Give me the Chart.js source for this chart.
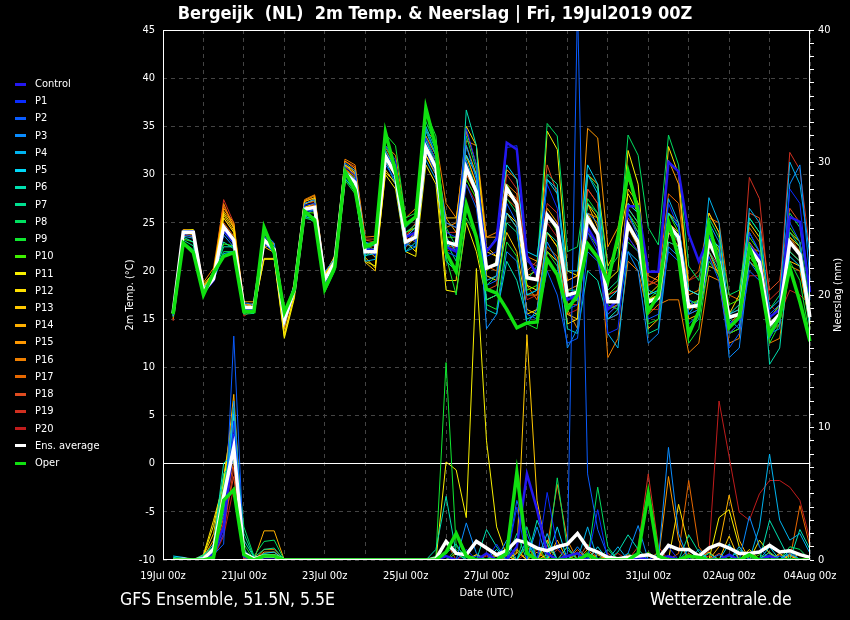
<!DOCTYPE html>
<html>
<head>
<meta charset="utf-8">
<title>Bergeijk (NL) 2m Temp. &amp; Neerslag</title>
<script src="https://cdn.jsdelivr.net/npm/chart.js@4.4.1/dist/chart.umd.min.js"></script>
<style>
html, body { margin: 0; padding: 0; background: #000; }
#wrap { position: relative; width: 850px; height: 620px; overflow: hidden; color: #fff;
        font-family: 'DejaVu Sans Condensed', 'DejaVu Sans', sans-serif; }
#box { position: absolute; left: 0; top: 0; width: 850px; height: 620px; }
#title { position: absolute; top: 2px; left: 0; width: 870px; text-align: center; font-weight: bold; font-size: 18px; }
#legend .item { position: absolute; left: 15px; height: 14px; line-height: 14px; font-size: 11px; white-space: nowrap; }
#legend .sw { display: inline-block; width: 11px; height: 3px; margin-right: 9px; vertical-align: middle; }
#src { position: absolute; left: 120px; top: 589px; font-size: 17.5px; }
#site { position: absolute; left: 650px; top: 589px; font-size: 17.5px; }
</style>
</head>
<body>
<div id="wrap">
  <div id="box"><canvas id="chart"></canvas></div>
  <div id="title">Bergeijk&nbsp;&nbsp;(NL)&nbsp;&nbsp;2m Temp. &amp; Neerslag | Fri, 19Jul2019 00Z</div>
  <div id="legend"></div>
  <div id="src">GFS Ensemble, 51.5N, 5.5E</div>
  <div id="site">Wetterzentrale.de</div>
</div>
<script>
// time axis: 6-hourly from 19Jul 00z to 04Aug 00z, series start at 06z
const days = ['19Jul', '20Jul', '21Jul', '22Jul', '23Jul', '24Jul', '25Jul', '26Jul', '27Jul',
              '28Jul', '29Jul', '30Jul', '31Jul', '01Aug', '02Aug', '03Aug', '04Aug'];
const hoursOfDay = ['00z', '06z', '12z', '18z'];

const names = ['Control', 'P1', 'P2', 'P3', 'P4', 'P5', 'P6', 'P7', 'P8', 'P9', 'P10',
               'P11', 'P12', 'P13', 'P14', 'P15', 'P16', 'P17', 'P18', 'P19', 'P20', 'Ens. average', 'Oper'];
const colors = ['#2418f0', '#0a2cff', '#0a5cff', '#0a8cff', '#00b4f0', '#00d8f8', '#00e0b0', '#00e090',
                '#00e060', '#10e830', '#40f000', '#f8f000', '#ffe000', '#ffc800', '#ffb000', '#ff9800',
                '#f08000', '#e86800', '#e04c20', '#d03020', '#c01c1c', '#ffffff', '#10e010'];

// 2m temperature (°C)
const tControl = [15.6, 24.0, 24.0, 17.8, 19.0, 24.3, 23.0, 16.0, 15.9, 23.3, 22.0, 14.8, 18.0, 26.3, 26.5, 18.9, 20.8, 30.3, 29.3, 22.2, 22.2,
  32.0, 30.2, 23.5, 24.0, 33.0, 30.8, 22.5, 22.0, 31.0, 28.0,
  22.0, 23.3, 33.3, 32.6, 21.5, 19.5, 25.8, 24.6, 17.0, 17.5, 24.5, 22.7, 16.0, 17.0, 26.7, 26.7, 19.9, 19.9, 31.3, 30.3, 23.8, 21.0, 23.5, 20.5, 14.5, 15.0, 22.7, 21.4, 15.2, 16.0, 25.6, 25.1, 17.8];
const tP1 = [15.4, 24.1, 24.2, 18.0, 19.0, 24.3, 23.5, 16.0, 16.4, 23.6, 22.5, 14.6, 18.3, 26.8, 27.0, 19.3, 21.0, 30.8, 29.9, 22.4, 21.6,
  33.0, 31.5, 23.8, 23.0, 33.8, 31.5, 24.0, 23.5, 34.8, 31.0,
  21.5, 22.0, 32.8, 33.0, 21.0, 20.0, 29.0, 26.5, 16.0, 16.5, 24.0, 22.0, 13.5, 14.0, 23.5, 22.0, 16.5, 17.5, 27.0, 24.5, 17.0, 16.0, 24.5, 21.5, 13.5, 14.5, 24.0, 22.0, 13.0, 15.0, 28.5, 27.0, 17.0];
const tP2 = [15.8, 23.8, 23.6, 17.7, 19.4, 24.0, 22.8, 16.4, 16.1, 22.8, 22.0, 15.2, 17.9, 26.0, 26.3, 18.8, 20.7, 29.8, 28.9, 21.8, 22.3,
  31.0, 29.5, 22.5, 24.0, 32.5, 30.0, 22.0, 21.5, 29.0, 26.5,
  18.5, 19.0, 27.0, 25.0, 15.5, 15.0, 20.0, 17.5, 12.5, 13.0, 22.0, 21.0, 15.5, 16.5, 26.0, 23.5, 15.0, 15.5, 22.0, 21.0, 14.5, 15.5, 21.5, 19.0, 12.0, 13.5, 20.0, 19.0, 15.5, 16.5, 25.0, 23.0, 16.0];
const tP3 = [15.5, 24.2, 24.1, 18.2, 19.5, 23.7, 22.5, 16.7, 16.5, 23.9, 22.9, 15.5, 18.6, 27.0, 27.4, 19.9, 21.3, 31.2, 30.4, 23.0, 22.6,
  32.5, 30.5, 22.8, 22.5, 34.8, 32.0, 25.0, 24.5, 33.0, 29.5,
  14.0, 15.5, 22.0, 21.0, 14.5, 16.0, 23.0, 21.0, 12.0, 14.0, 26.0, 25.0, 15.0, 15.5, 22.0, 20.0, 12.5, 13.5, 22.5, 21.5, 15.5, 16.0, 25.0, 23.0, 11.0, 12.0, 21.0, 19.5, 13.5, 14.0, 29.0, 31.0, 19.0];
const tP4 = [15.9, 23.6, 23.4, 17.6, 19.0, 21.8, 22.0, 16.3, 15.8, 23.0, 21.8, 14.8, 18.0, 25.6, 25.5, 18.5, 20.5, 29.6, 28.4, 21.0, 21.2,
  31.5, 29.0, 22.0, 22.5, 31.5, 29.5, 22.5, 23.0, 31.0, 28.5,
  19.0, 19.5, 26.0, 24.5, 17.5, 18.0, 29.5, 28.5, 17.5, 17.0, 30.0, 28.0, 13.5, 12.0, 22.0, 21.0, 16.0, 17.0, 27.5, 25.0, 15.5, 17.0, 27.6, 25.0, 15.0, 14.0, 26.5, 25.0, 16.0, 17.0, 31.3, 29.0, 21.5];
const tP5 = [15.3, 24.0, 23.9, 18.3, 19.3, 24.5, 23.0, 16.0, 15.9, 23.4, 22.3, 14.4, 17.8, 26.2, 26.5, 19.0, 20.8, 30.0, 29.0, 21.6, 21.8,
  31.8, 29.8, 23.5, 24.5, 33.5, 31.0, 23.5, 22.0, 32.0, 30.0,
  22.0, 23.5, 31.0, 29.5, 22.0, 21.5, 29.5, 28.0, 20.0, 20.0, 31.0, 29.0, 17.0, 18.0, 27.0, 26.0, 17.5, 18.0, 26.0, 24.5, 18.0, 17.5, 23.5, 22.5, 15.5, 16.0, 24.0, 22.0, 13.0, 15.0, 21.5, 20.5, 15.0];
const tP6 = [15.7, 23.5, 23.0, 17.8, 19.6, 22.5, 22.5, 16.5, 16.0, 23.5, 22.0, 15.0, 18.2, 26.4, 26.2, 19.2, 21.2, 30.4, 29.5, 22.5, 22.0,
  32.0, 30.0, 22.0, 23.0, 35.0, 32.5, 21.0, 20.0, 36.7, 33.0,
  16.0, 15.5, 21.0, 19.0, 15.0, 15.5, 24.0, 23.0, 14.0, 13.5, 20.0, 19.0, 15.0, 16.0, 26.5, 25.0, 18.0, 17.5, 25.0, 23.0, 14.0, 15.0, 22.0, 20.0, 15.5, 16.5, 25.5, 24.0, 10.3, 12.0, 22.0, 21.0, 14.0];
const tP7 = [15.4, 23.2, 22.6, 17.6, 19.8, 23.0, 22.3, 15.8, 15.6, 24.0, 22.3, 15.6, 18.5, 25.8, 25.6, 18.3, 20.4, 29.5, 28.6, 22.8, 23.0,
  33.0, 31.0, 24.5, 25.5, 34.5, 32.0, 23.0, 21.0, 31.5, 28.5,
  17.0, 17.5, 25.0, 24.0, 17.5, 18.0, 30.0, 29.0, 18.0, 18.0, 27.0, 26.0, 18.0, 19.0, 26.0, 24.0, 13.5, 14.0, 23.0, 22.5, 17.0, 16.5, 23.0, 21.0, 15.0, 15.5, 22.0, 21.5, 14.0, 15.5, 24.0, 22.5, 14.5];
const tP8 = [16.0, 23.0, 22.2, 17.5, 19.6, 22.0, 22.0, 15.5, 15.6, 24.3, 21.6, 15.5, 18.4, 25.5, 25.2, 18.0, 20.2, 29.6, 28.2, 22.2, 22.8,
  33.8, 30.8, 24.0, 24.8, 35.5, 33.0, 24.5, 22.5, 34.0, 30.5,
  18.5, 19.5, 27.5, 26.0, 19.0, 20.5, 35.3, 34.0, 22.0, 22.5, 30.0, 28.5, 20.0, 21.5, 34.1, 32.0, 24.5, 22.7, 34.1, 31.0, 20.5, 19.0, 25.5, 23.5, 17.5, 18.0, 25.5, 24.0, 16.0, 17.5, 26.0, 24.5, 17.0];
const tP9 = [15.2, 22.8, 22.0, 17.4, 20.0, 21.5, 21.8, 15.6, 15.8, 24.6, 22.0, 15.8, 18.0, 25.8, 25.0, 17.8, 20.0, 29.4, 28.0, 21.5, 22.5,
  34.2, 33.0, 25.5, 26.0, 36.5, 34.0, 21.5, 17.5, 25.5, 23.5,
  16.5, 16.0, 23.0, 21.5, 14.5, 14.0, 22.0, 20.5, 16.0, 16.5, 27.5, 26.0, 16.5, 16.0, 23.0, 22.0, 14.5, 15.0, 25.0, 23.0, 12.5, 14.0, 21.0, 19.5, 13.5, 14.0, 21.5, 20.0, 12.5, 14.5, 21.0, 19.0, 13.0];
const tP10 = [15.5, 23.3, 23.0, 17.7, 19.9, 22.8, 22.6, 16.0, 16.0, 23.8, 22.6, 15.3, 18.3, 26.1, 26.0, 18.6, 20.6, 30.0, 28.8, 22.0, 22.4,
  32.5, 30.5, 24.0, 24.5, 33.5, 31.5, 23.5, 23.5, 29.5, 27.5,
  20.0, 21.0, 29.0, 27.0, 18.0, 18.5, 26.0, 24.0, 16.5, 17.0, 24.0, 22.5, 17.5, 18.5, 26.0, 24.5, 17.0, 18.0, 26.0, 24.0, 16.5, 17.0, 24.5, 22.0, 16.5, 17.0, 23.5, 22.0, 15.0, 16.5, 24.5, 23.0, 16.5];
const tP11 = [15.3, 24.2, 24.3, 18.4, 19.5, 25.5, 24.0, 15.8, 16.2, 21.2, 21.2, 13.0, 17.2, 26.6, 27.0, 19.5, 21.0, 30.5, 29.6, 21.0, 20.5,
  30.0, 28.5, 22.0, 21.5, 31.0, 29.0, 18.0, 17.8, 25.0, 22.0,
  17.0, 17.5, 26.0, 25.0, 18.5, 18.0, 34.5, 32.6, 20.0, 19.5, 27.0, 25.5, 19.0, 20.0, 32.5, 29.0, 17.0, 17.5, 26.0, 25.0, 16.0, 17.0, 24.0, 22.0, 14.0, 15.0, 22.5, 21.0, 14.5, 15.5, 24.0, 23.0, 16.0];
const tP12 = [15.6, 24.1, 24.0, 18.6, 19.8, 26.0, 24.5, 15.6, 15.9, 21.3, 21.3, 13.2, 17.5, 26.9, 27.5, 19.6, 21.4, 31.0, 30.2, 21.4, 20.3,
  30.5, 29.0, 23.0, 22.0, 32.0, 30.0, 19.0, 19.0, 35.0, 33.0,
  22.0, 21.5, 26.0, 24.5, 15.5, 16.0, 24.0, 22.5, 14.5, 15.0, 30.0, 29.0, 20.5, 22.5, 28.0, 26.0, 17.5, 18.5, 32.9, 30.0, 18.0, 17.5, 26.0, 24.0, 15.5, 17.5, 25.0, 23.5, 15.0, 16.5, 23.5, 22.5, 14.5];
const tP13 = [15.7, 23.9, 23.8, 18.1, 20.0, 25.8, 24.2, 16.1, 16.6, 22.5, 21.9, 13.5, 17.6, 27.2, 27.6, 19.4, 21.3, 30.9, 30.0, 20.9, 20.0,
  30.2, 29.2, 22.5, 23.5, 32.0, 30.0, 25.5, 25.5, 32.0, 29.0,
  19.5, 19.0, 24.0, 22.0, 16.0, 15.5, 22.0, 21.0, 15.5, 15.0, 26.0, 24.0, 16.0, 17.0, 28.5, 27.0, 17.0, 17.5, 24.0, 22.5, 15.0, 15.5, 20.5, 20.0, 13.5, 14.5, 21.0, 20.0, 14.5, 15.0, 21.0, 20.5, 14.0];
const tP14 = [15.8, 24.0, 24.0, 18.2, 19.9, 26.2, 24.8, 16.4, 16.6, 22.6, 22.4, 14.0, 18.4, 27.0, 27.3, 19.5, 21.6, 31.0, 30.4, 22.4, 21.4,
  32.0, 30.5, 24.0, 24.5, 34.0, 32.0, 25.5, 24.0, 33.0, 30.0,
  22.5, 21.5, 28.0, 27.0, 19.5, 20.0, 26.5, 25.0, 19.0, 19.5, 27.0, 24.5, 16.0, 16.5, 24.5, 22.5, 14.0, 15.0, 25.0, 24.0, 16.5, 16.0, 22.0, 19.5, 13.5, 14.0, 21.5, 20.0, 13.5, 14.5, 23.0, 22.0, 14.5];
const tP15 = [15.4, 24.3, 24.2, 18.5, 19.6, 26.5, 25.0, 16.8, 16.8, 23.5, 22.8, 14.5, 18.6, 27.3, 27.8, 19.7, 21.5, 31.4, 30.6, 23.0, 22.0,
  32.5, 30.8, 23.0, 24.0, 33.8, 31.5, 24.5, 25.0, 34.5, 31.0,
  23.5, 23.5, 30.5, 29.5, 21.5, 21.0, 24.0, 22.5, 18.0, 18.5, 34.8, 33.8, 22.5, 24.5, 29.5, 27.0, 19.5, 19.0, 31.5, 29.0, 17.5, 18.0, 23.5, 22.5, 14.5, 15.5, 23.0, 21.5, 14.0, 15.0, 22.0, 21.0, 15.5];
const tP16 = [15.0, 24.0, 23.8, 18.8, 20.3, 27.0, 24.5, 16.6, 16.2, 23.0, 22.5, 14.2, 18.9, 27.4, 27.9, 19.8, 21.2, 31.6, 31.0, 23.5, 23.6,
  33.0, 32.0, 25.5, 26.5, 34.5, 33.5, 27.0, 25.5, 33.5, 33.0,
  23.5, 24.0, 29.0, 28.0, 17.5, 17.5, 22.0, 21.0, 16.0, 14.0, 26.0, 25.5, 11.0, 13.0, 21.0, 20.0, 15.5, 16.5, 17.0, 17.0, 11.5, 12.5, 19.5, 19.0, 12.5, 13.0, 22.5, 22.0, 12.5, 13.0, 20.5, 20.0, 14.5];
const tP17 = [15.5, 23.9, 23.5, 18.0, 19.4, 25.0, 23.6, 16.2, 16.3, 23.2, 22.0, 14.8, 18.1, 26.6, 26.8, 19.2, 20.9, 30.6, 29.8, 22.6, 22.6,
  32.8, 31.0, 23.5, 23.0, 33.0, 31.0, 22.5, 22.5, 30.0, 28.0,
  20.5, 20.0, 27.5, 26.5, 18.5, 17.0, 22.5, 21.5, 16.5, 17.0, 23.0, 21.5, 15.0, 15.5, 26.5, 25.0, 18.5, 19.0, 28.0, 27.0, 19.0, 20.0, 25.5, 25.0, 17.5, 17.0, 24.5, 23.0, 15.5, 16.5, 23.5, 22.0, 16.0];
const tP18 = [15.6, 24.0, 24.1, 18.3, 19.7, 26.8, 24.4, 16.5, 16.5, 23.3, 22.7, 14.6, 18.7, 27.2, 27.6, 19.6, 21.5, 31.4, 30.8, 23.2, 23.0,
  31.2, 30.0, 23.5, 25.0, 32.5, 31.5, 25.0, 24.5, 30.5, 28.5,
  18.0, 18.5, 28.5, 27.5, 20.0, 21.0, 31.0, 28.0, 19.0, 19.5, 28.5, 27.0, 17.5, 18.0, 25.5, 24.0, 18.5, 19.5, 24.5, 23.0, 16.0, 16.5, 22.0, 20.5, 14.5, 15.0, 26.0, 25.5, 18.0, 19.0, 26.5, 25.0, 18.0];
const tP19 = [14.8, 23.8, 23.9, 18.4, 19.5, 27.4, 25.0, 15.3, 16.0, 22.9, 22.0, 14.5, 18.8, 27.0, 27.2, 19.5, 21.1, 30.8, 30.1, 23.3, 23.3,
  32.0, 30.2, 23.0, 23.5, 33.0, 31.0, 24.0, 24.0, 32.0, 29.0,
  20.0, 21.0, 30.0, 28.5, 21.0, 20.5, 27.0, 26.0, 16.5, 16.5, 28.5, 27.0, 17.5, 18.0, 27.0, 26.0, 19.0, 18.5, 24.0, 23.0, 15.5, 16.0, 26.0, 24.0, 15.0, 15.5, 29.7, 27.5, 17.0, 18.0, 32.3, 30.5, 22.0];
const tP20 = [15.0, 23.7, 23.6, 17.9, 19.3, 25.5, 24.0, 15.8, 16.2, 22.8, 22.4, 14.2, 18.0, 26.5, 26.9, 19.0, 21.0, 30.3, 29.4, 22.0, 22.2,
  31.5, 30.0, 23.8, 24.5, 32.0, 30.5, 22.0, 22.5, 29.0, 27.0,
  19.0, 19.5, 26.0, 25.0, 17.0, 17.5, 25.0, 23.5, 15.5, 16.0, 24.0, 23.0, 15.5, 16.5, 23.5, 22.0, 16.0, 16.0, 23.0, 22.5, 19.0, 19.5, 21.5, 19.5, 15.5, 16.0, 19.5, 19.5, 16.5, 15.5, 18.0, 17.5, 16.5];
const tAvg = [15.6, 24.0, 24.0, 17.9, 19.2, 24.6, 23.2, 16.2, 16.2, 23.2, 22.2, 14.9, 18.1, 26.4, 26.6, 19.1, 20.9, 30.2, 29.2, 22.0, 22.0,
  31.9, 30.0, 23.0, 23.5, 32.8, 30.7, 23.0, 22.7, 30.7, 28.2,
  20.3, 20.7, 28.6, 26.9, 19.3, 19.1, 25.8, 24.5, 17.5, 17.8, 25.5, 23.8, 16.8, 16.8, 24.8, 23.0, 16.8, 17.2, 24.8, 23.5, 16.3, 16.4, 23.0, 20.9, 15.2, 15.5, 22.4, 20.9, 14.4, 15.5, 23.0, 21.7, 15.2];
const tOper = [15.5, 22.9, 21.9, 17.5, 19.8, 21.5, 21.9, 15.8, 15.8, 24.5, 21.9, 15.7, 18.1, 26.2, 25.3, 18.1, 20.4, 30.3, 28.4, 22.5, 23.0,
  34.4, 30.3, 24.8, 25.6, 36.9, 32.8, 21.9, 19.9, 26.9, 23.5,
  18.1, 17.7, 16.0, 14.1, 14.6, 14.7, 21.2, 19.6, 16.0, 17.5, 22.8, 21.4, 18.9, 23.5, 30.3, 26.2, 15.8, 17.5, 25.1, 21.4, 13.4, 15.8, 24.8, 20.7, 14.1, 15.2, 22.4, 19.6, 13.4, 15.2, 20.3, 16.8, 12.7];

// precipitation (mm per 6h), one row per 4 days
const pControl = [0, 0, 0, 0.1, 0.5, 2.5, 9.0, 0.3, 0, 0.2, 0.2, 0, 0, 0, 0, 0,
  0, 0, 0, 0, 0, 0, 0, 0, 0, 0, 0, 0.3, 0, 0, 0, 0.5,
  0, 0, 1.0, 6.5, 3.8, 0.5, 0, 0.3, 0.5, 0, 0, 0, 0, 0, 0.2, 0,
  0, 0.3, 0, 0, 0, 0, 0, 0.4, 0, 0, 0, 0.3, 0, 0, 0, 0];
const pP1 = [0, 0, 0, 0, 0.3, 2.0, 10.5, 0.2, 0, 0, 0, 0, 0, 0, 0, 0,
  0, 0, 0, 0, 0, 0, 0, 0, 0, 0, 0, 0, 0, 0.8, 0, 0,
  1.2, 0, 4.0, 0, 0, 5.1, 1.0, 0, 0, 0, 3.8, 0, 0, 0, 0.5, 0,
  0, 1.0, 0, 0, 0, 0, 0, 0, 0, 0.3, 0, 0.4, 0, 0, 0, 0];
const pP2 = [0, 0, 0, 0.2, 0.4, 1.2, 16.9, 0.5, 0.1, 0.3, 0.3, 0, 0, 0, 0, 0,
  0, 0, 0, 0, 0, 0, 0, 0, 0, 0, 0, 0, 0, 0, 0.3, 0,
  0, 0, 4.5, 2.0, 0, 0, 0, 0.5, 42, 6.5, 2.3, 0.3, 0, 0, 0, 0,
  0.5, 0, 0, 0, 0, 0, 0.4, 0, 0, 0, 0, 0, 0.3, 0, 0, 0];
const pP3 = [0, 0, 0, 0.1, 0.6, 3.5, 12.0, 0.4, 0, 0, 0, 0, 0, 0, 0, 0,
  0, 0, 0, 0, 0, 0, 0, 0, 0, 0, 0, 0, 0, 2.8, 0.5, 0,
  0, 1.5, 0, 0, 2.5, 0, 0, 0, 1.0, 0, 0, 0, 0, 0.5, 2.6, 0,
  0, 8.5, 2.0, 0, 0, 0, 0, 0, 0, 3.3, 1.0, 0, 0, 0.5, 0, 0];
const pP4 = [0, 0, 0, 0.2, 0.8, 5.0, 9.5, 0.8, 0, 0, 0, 0, 0, 0, 0, 0,
  0, 0, 0, 0, 0, 0, 0, 0, 0, 0, 0, 0, 0, 0, 0, 0.5,
  0, 0, 0, 0, 0, 2.0, 0, 0, 0, 2.5, 0, 0, 1.0, 0, 0, 0,
  0, 0, 0, 0, 0.8, 0, 0, 0, 1.0, 0, 2.5, 8.0, 3.0, 1.5, 2.0, 0.5];
const pP5 = [0.3, 0.2, 0, 0.1, 0.5, 4.0, 11.0, 0.6, 0, 0.5, 0.6, 0, 0, 0, 0, 0,
  0, 0, 0, 0, 0, 0, 0, 0, 0, 0, 0, 0, 0, 0, 0, 0,
  0.8, 0, 0, 1.5, 0, 0, 2.5, 0, 0, 0, 1.0, 0, 0, 0, 0, 0,
  0, 0, 0, 0.8, 0, 0, 0, 1.2, 0, 0, 0, 1.0, 0, 0.7, 0, 0];
const pP6 = [0.2, 0.1, 0, 0.3, 1.2, 7.3, 8.0, 1.5, 0.2, 0, 0, 0, 0, 0, 0, 0,
  0, 0, 0, 0, 0, 0, 0, 0, 0, 0, 0.8, 4.8, 0.5, 0, 0, 2.3,
  1.0, 0, 0, 0, 3.0, 1.2, 0, 0, 0, 0, 0, 0, 0.6, 1.9, 0.8, 0,
  0, 0, 0, 0, 0, 0.5, 0, 0, 0, 0, 0, 3.0, 1.5, 0, 2.3, 0.8];
const pP7 = [0, 0, 0, 0.4, 1.0, 6.5, 7.5, 2.0, 0.2, 0.8, 0.9, 0, 0, 0, 0, 0,
  0, 0, 0, 0, 0, 0, 0, 0, 0, 0, 0, 0.5, 1.2, 0, 0, 0,
  0, 0, 2.0, 0, 0, 0, 0, 1.0, 0, 0, 0, 0.8, 0, 0, 0, 0,
  0, 0, 0, 1.9, 0.6, 0, 0, 0, 0.8, 0, 0, 0.6, 0, 0, 0, 0];
const pP8 = [0, 0, 0, 0.2, 0.7, 5.5, 10.0, 2.5, 0.3, 1.4, 1.5, 0, 0, 0, 0, 0,
  0, 0, 0, 0, 0, 0, 0, 0, 0, 0, 0, 0, 0.8, 0, 0, 0,
  0, 0.6, 0, 2.5, 0, 0, 6.2, 0.8, 0, 0, 5.5, 1.0, 0, 0.5, 0, 0,
  0, 0, 0, 0, 0, 0, 0, 0, 0, 0, 0, 0, 0, 1.0, 0.8, 0];
const pP9 = [0, 0, 0, 0.1, 0.5, 4.8, 11.5, 1.2, 0, 0.2, 0.2, 0, 0, 0, 0, 0,
  0, 0, 0, 0, 0, 0, 0, 0, 0, 0, 0.3, 14.9, 1.0, 0.3, 0, 0,
  0, 0, 0, 1.2, 0, 0, 0, 0, 0, 0.6, 0, 0, 0, 0, 0.5, 0,
  0, 0, 0, 0, 0, 0, 0, 0.3, 0, 0, 0, 0, 0, 0, 0, 0];
const pP10 = [0, 0, 0, 0.1, 0.6, 5.2, 9.0, 0.5, 0, 0, 0, 0, 0, 0, 0, 0,
  0, 0, 0, 0, 0, 0, 0, 0, 0, 0, 0, 0, 0.5, 0, 0, 0,
  0.4, 0, 0, 0, 1.0, 0, 0, 0, 0.5, 0, 0, 0, 0, 0, 0, 0.6,
  0, 0, 0, 0, 0.3, 0, 0, 0, 0, 0, 0.4, 0, 0, 0, 0, 0];
const pP11 = [0, 0, 0, 0.3, 2.6, 6.0, 10.8, 0.4, 0, 0, 0, 0, 0, 0, 0, 0,
  0, 0, 0, 0, 0, 0, 0, 0, 0, 0, 0, 7.4, 6.8, 3.2, 22.0, 9.0,
  2.5, 0.3, 0, 0, 0, 0.4, 0, 0, 0, 0, 0, 0, 0, 0, 0, 0,
  0, 0, 0, 0, 0, 0, 3.2, 3.8, 1.0, 0, 1.5, 0.5, 0, 0, 0, 0];
const pP12 = [0, 0, 0, 0.4, 3.0, 5.8, 9.5, 0.3, 0, 0, 0, 0, 0, 0, 0, 0,
  0, 0, 0, 0, 0, 0, 0, 0, 0, 0, 0, 0, 0, 0, 0.4, 0,
  0, 0, 0.8, 0, 0, 1.5, 0, 0.3, 0, 0, 0, 0, 0, 0, 0, 0,
  0, 0, 4.2, 1.0, 0, 0, 0, 0, 0, 0.8, 0, 0, 0.5, 0, 0, 0];
const pP13 = [0, 0, 0, 0.3, 2.0, 6.3, 11.2, 0.3, 0, 0.3, 0.3, 0, 0, 0, 0, 0,
  0, 0, 0, 0, 0, 0, 0, 0, 0, 0, 0, 0, 0, 0, 0, 0,
  0.3, 0, 0.5, 17.0, 4.5, 0.5, 0, 0, 0, 0, 0.4, 0, 0, 0, 0, 0,
  0, 0, 0, 0, 0, 0.6, 0, 1.8, 0, 0, 0, 0, 0, 0.4, 0, 0];
const pP14 = [0, 0, 0, 0.2, 1.5, 5.5, 12.5, 0.2, 0, 2.2, 2.2, 0, 0, 0, 0, 0,
  0, 0, 0, 0, 0, 0, 0, 0, 0, 0, 0, 0, 0, 0, 0, 0,
  0, 0.8, 0, 0, 0, 0, 1.5, 0, 0, 0, 0, 0.3, 0, 0, 0, 0,
  0.6, 0, 0, 0, 0, 0, 1.0, 4.9, 1.5, 0, 0, 0, 0, 0, 0.5, 0];
const pP15 = [0, 0, 0, 0.2, 1.0, 6.2, 10.2, 0.6, 0, 0.6, 0.6, 0, 0, 0, 0, 0,
  0, 0, 0, 0, 0, 0, 0, 0, 0, 0, 0, 0, 0, 0, 0, 0.4,
  0, 0, 0, 0, 0.6, 0, 0, 1.0, 0, 0.8, 0, 0, 0, 0, 0, 0,
  0, 6.3, 1.5, 0, 0, 0, 0, 0, 0, 0.5, 0, 0, 0, 0.3, 0, 0];
const pP16 = [0, 0, 0, 0.1, 0.8, 4.5, 8.8, 0.3, 0, 0.8, 0.8, 0, 0, 0, 0, 0,
  0, 0, 0, 0, 0, 0, 0, 0, 0, 0, 0, 0, 0, 0, 0, 0,
  0, 0, 0.6, 0, 0, 1.0, 5.7, 1.5, 0, 0, 0, 0, 0, 0.4, 0, 0,
  0, 0, 0, 0.5, 0, 0, 0, 0, 0, 0, 0, 0.6, 0, 0, 0, 0.3];
const pP17 = [0, 0, 0, 0.1, 0.4, 3.2, 7.5, 0.2, 0, 0.4, 0.4, 0, 0, 0, 0, 0,
  0, 0, 0, 0, 0, 0, 0, 0, 0, 0, 0, 0, 0, 0, 0.4, 0,
  0, 0, 0, 1.0, 0, 0, 0, 0, 0.8, 0, 0, 0, 0, 0, 0, 0.3,
  0, 0, 0.5, 6.0, 1.0, 0, 0, 0, 0, 0, 0, 0, 0, 0, 4.1, 1.0];
const pP18 = [0, 0, 0, 0, 0.3, 2.8, 6.3, 0.1, 0, 0, 0, 0, 0, 0, 0, 0,
  0, 0, 0, 0, 0, 0, 0, 0, 0, 0, 0, 1.4, 0, 0, 0, 0,
  0.5, 0, 0, 0, 0.8, 0, 0, 0, 0, 1.2, 0, 0, 0, 0, 0.4, 0,
  0, 0, 0, 0, 0, 0, 0.5, 0, 0, 0.6, 0, 0, 0.4, 0, 0, 0];
const pP19 = [0, 0, 0, 0, 0.2, 2.0, 7.0, 0.1, 0, 0, 0, 0, 0, 0, 0, 0,
  0, 0, 0, 0, 0, 0, 0, 0, 0, 0, 0, 0, 0, 0.5, 0, 0,
  0, 0.3, 0, 0, 0, 0, 0.8, 0, 0, 0, 0, 0.5, 0, 0, 1.0, 6.5,
  1.0, 0, 0, 0, 0, 0.3, 0, 0, 0, 0, 0, 0, 0, 0.5, 0, 0];
const pP20 = [0, 0, 0, 0, 0.2, 1.8, 5.5, 0.2, 0, 0, 0, 0, 0, 0, 0, 0,
  0, 0, 0, 0, 0, 0, 0, 0, 0, 0, 0, 0, 0, 0, 0, 0.3,
  0, 0, 0, 0.5, 0, 0, 0, 0, 0.6, 0, 0, 0, 0.5, 0, 0, 0,
  0, 0, 0, 0, 0.3, 0.6, 12.0, 7.8, 3.6, 3.0, 5.0, 6.0, 6.0, 5.5, 4.5, 1.5];
const pAvg = [0, 0.05, 0, 0.1, 0.8, 4.8, 8.5, 0.5, 0.1, 0.3, 0.3, 0, 0, 0, 0, 0,
  0, 0, 0, 0, 0, 0, 0, 0, 0, 0, 0.1, 1.4, 0.5, 0.4, 1.4, 0.9,
  0.4, 0.7, 1.5, 1.3, 0.9, 0.7, 1.0, 1.2, 2.0, 0.9, 0.6, 0.2, 0.1, 0.2, 0.3, 0.4,
  0.1, 1.1, 0.8, 0.8, 0.3, 0.9, 1.2, 0.9, 0.5, 0.5, 0.6, 1.1, 0.6, 0.7, 0.4, 0.2];
const pOper = [0, 0, 0, 0, 0.2, 4.5, 5.3, 0.4, 0, 0.3, 0.3, 0, 0, 0, 0, 0,
  0, 0, 0, 0, 0, 0, 0, 0, 0, 0, 0, 0.6, 2.0, 0.3, 0, 0,
  0, 0.5, 6.6, 0.5, 0, 0, 0, 0, 0, 0.4, 0, 0, 0, 0, 0.5, 5.0,
  0.3, 0, 0, 0.3, 0.2, 0, 0, 0, 0, 0.4, 0, 0, 0, 0, 0, 0];

const temps = [tControl, tP1, tP2, tP3, tP4, tP5, tP6, tP7, tP8, tP9, tP10,
               tP11, tP12, tP13, tP14, tP15, tP16, tP17, tP18, tP19, tP20, tAvg, tOper];
const precs = [pControl, pP1, pP2, pP3, pP4, pP5, pP6, pP7, pP8, pP9, pP10,
               pP11, pP12, pP13, pP14, pP15, pP16, pP17, pP18, pP19, pP20, pAvg, pOper];

const labels = [];
days.forEach(d => hoursOfDay.forEach(h => labels.push(d + ' ' + h)));
labels.length = 65;

function lineWidth(k) {
  if (names[k] === 'Control') return 2.5;
  if (names[k] === 'Ens. average' || names[k] === 'Oper') return 3.5;
  return 1;
}

function drawOrder(k) {
  // Oper on top, then average, then control, members below
  if (names[k] === 'Oper') return 0;
  if (names[k] === 'Ens. average') return 1;
  if (names[k] === 'Control') return 2;
  return 3 + k;
}

const datasets = [];
names.forEach((n, k) => {
  const common = { borderColor: colors[k], borderWidth: lineWidth(k), pointRadius: 0, tension: 0, fill: false, order: drawOrder(k) };
  datasets.push(Object.assign({ label: n, data: [null].concat(temps[k]), yAxisID: 'y' }, common));
  datasets.push(Object.assign({ label: n + ' neerslag', data: [null].concat(precs[k]), yAxisID: 'y2' }, common));
});

// legend on the left
const legend = document.getElementById('legend');
names.forEach((n, k) => {
  const item = document.createElement('div');
  item.className = 'item';
  item.style.top = (77 + k * 17.23) + 'px';
  item.innerHTML = '<span class="sw" style="background:' + colors[k] + '"></span>' + n;
  legend.appendChild(item);
});

// white frame round the plot, and the right-hand axis title reading upwards
const framePlugin = {
  id: 'frame',
  afterDatasetsDraw(chart) {
    const { ctx, chartArea: a } = chart;
    ctx.save();
    ctx.strokeStyle = '#ffffff';
    ctx.lineWidth = 1;
    ctx.strokeRect(a.left + 0.5, a.top + 0.5, a.right - a.left - 1, a.bottom - a.top - 1);
    ctx.restore();
  },
  afterDraw(chart) {
    const { ctx, chartArea: a } = chart;
    ctx.save();
    ctx.translate(chart.width - 12, (a.top + a.bottom) / 2);
    ctx.rotate(-Math.PI / 2);
    ctx.fillStyle = '#ffffff';
    ctx.font = "11px 'DejaVu Sans Condensed', 'DejaVu Sans', sans-serif";
    ctx.textAlign = 'center';
    ctx.textBaseline = 'middle';
    ctx.fillText('Neerslag (mm)', 0, 0);
    ctx.restore();
  }
};

Chart.defaults.font.family = "'DejaVu Sans Condensed', 'DejaVu Sans', sans-serif";
Chart.defaults.font.size = 11;
Chart.defaults.color = '#ffffff';

new Chart(document.getElementById('chart'), {
  type: 'line',
  data: { labels: labels, datasets: datasets },
  options: {
    responsive: true,
    maintainAspectRatio: false,
    animation: false,
    events: [],
    layout: { padding: { left: 113, right: 0, top: 30, bottom: 15 } },
    plugins: { legend: { display: false }, tooltip: { enabled: false } },
    scales: {
      x: {
        type: 'category',
        offset: false,
        afterFit: s => { s.height = 45; },
        grid: {
          color: c => (c.index % 4 === 0 ? '#444444' : 'rgba(0,0,0,0)'),
          drawTicks: false
        },
        border: { display: false, dash: [4, 4] },
        ticks: {
          autoSkip: false,
          maxRotation: 0,
          padding: 10,
          callback: function (v, i) { return i % 8 === 0 ? this.getLabelForValue(v) : ''; }
        },
        title: { display: true, text: 'Date (UTC)', font: { size: 11 }, padding: { top: 0, bottom: 5 } }
      },
      y: {
        position: 'left',
        min: -10,
        max: 45,
        afterFit: s => { s.width = 50; },
        grid: {
          color: c => (c.tick && c.tick.value === 0 ? '#ffffff' : '#444444'),
          drawTicks: false
        },
        border: { display: false, dash: c => (c.tick && c.tick.value === 0 ? [] : [4, 4]) },
        ticks: { stepSize: 5, padding: 8 },
        title: { display: true, text: '2m Temp. (°C)', padding: { top: 11, bottom: 0 } }
      },
      y2: {
        position: 'right',
        min: 0,
        max: 40,
        afterFit: s => { s.width = 40; },
        grid: { drawOnChartArea: false, drawTicks: true, tickLength: 4, tickColor: '#ffffff' },
        border: { display: false },
        ticks: {
          stepSize: 1,
          autoSkip: false,
          padding: 4,
          callback: v => (v % 10 === 0 ? v : '')
        }
      }
    }
  },
  plugins: [framePlugin]
});
</script>
</body>
</html>
